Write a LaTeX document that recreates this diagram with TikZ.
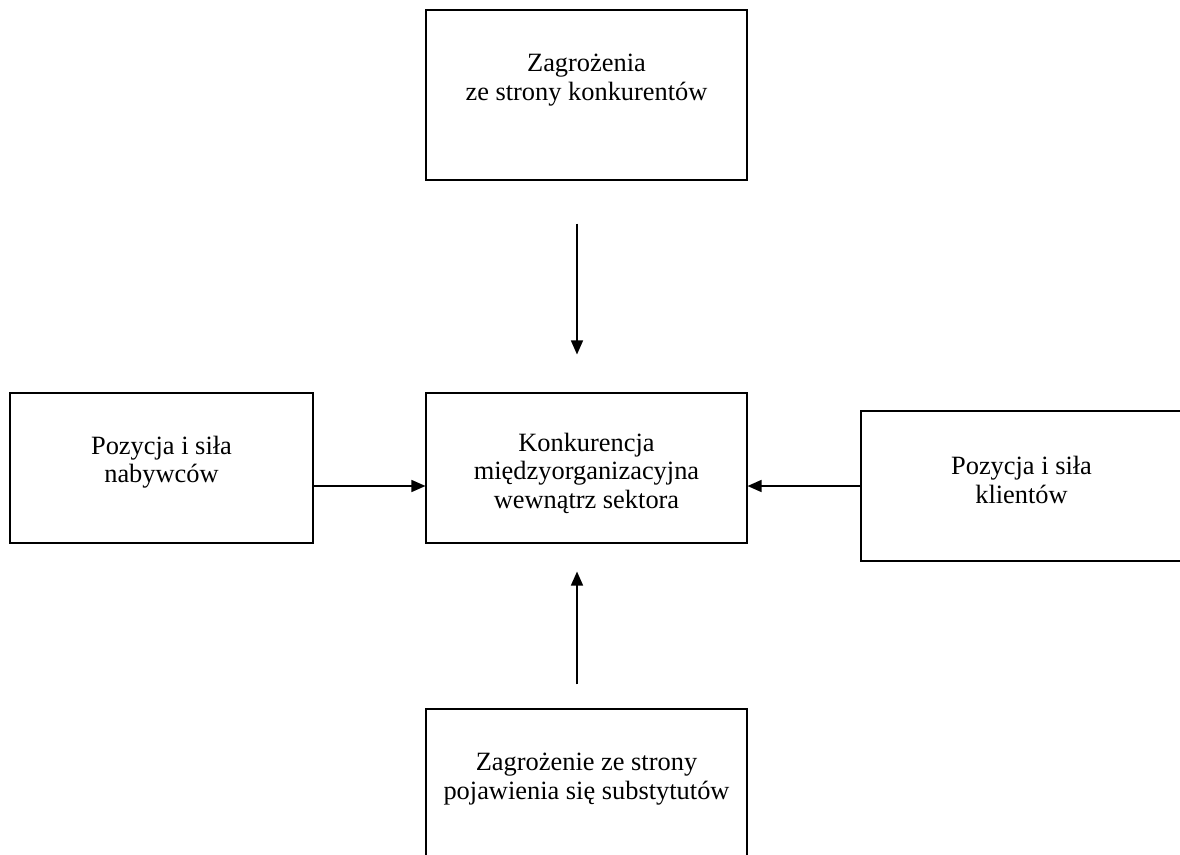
\documentclass[tikz,border=0pt]{standalone}
\usepackage{fontspec}
\setmainfont{Liberation Serif}
\usetikzlibrary{arrows.meta}
\tikzset{>={Triangle[length=14pt,width=12pt]}}
\tikzset{box/.style={draw, line width=1.1pt, rectangle, inner sep=0pt, minimum width=321pt, minimum height=150pt},
  txt/.style={align=center, font=\fontsize{26.4}{28.5}\selectfont},
  force/.style={->, line width=1.5pt}}

\begin{document}
\begin{tikzpicture}[x=1pt,y=-1pt]
  \useasboundingbox (0,0) rectangle (1180,854);
  \clip (0,0) rectangle (1180,854);
  \node[box, minimum height=170pt] (konk) at (586.5,95) {};
  \node[box, minimum width=303pt] (nab) at (161.5,468) {};
  \node[box] (mid) at (586.5,468) {};
  \node[box] (kli) at (1021.5,486) {};
  \node[box, minimum height=170pt] (sub) at (586.5,794) {};
  \node[txt] (konkTxt) at (586.5,80) {Zagrożenia\\ze strony konkurentów};
  \node[txt] (nabTxt) at (161.5,462) {Pozycja i siła\\nabywców};
  \node[txt] (midTxt) at (586.5,473) {Konkurencja\\międzyorganizacyjna\\wewnątrz sektora};
  \node[txt] (kliTxt) at (1021.5,480) {Pozycja i siła\\klientów};
  \node[txt] (subTxt) at (586.5,779) {Zagrożenie ze strony\\pojawienia się substytutów};
  \draw[force, shorten <=43pt, shorten >=38pt] ([xshift=-9.5pt]konk.south) -- ([xshift=-9.5pt]mid.north);
  \draw[force, shorten <=24pt, shorten >=28pt] ([xshift=-9.5pt]sub.north) -- ([xshift=-9.5pt]mid.south);
  \draw[force] ([yshift=-18pt]nab.east) -- ([yshift=-18pt]mid.west);
  \draw[force] (kli.west) -- ([yshift=-18pt]mid.east);
\end{tikzpicture}
\end{document}
